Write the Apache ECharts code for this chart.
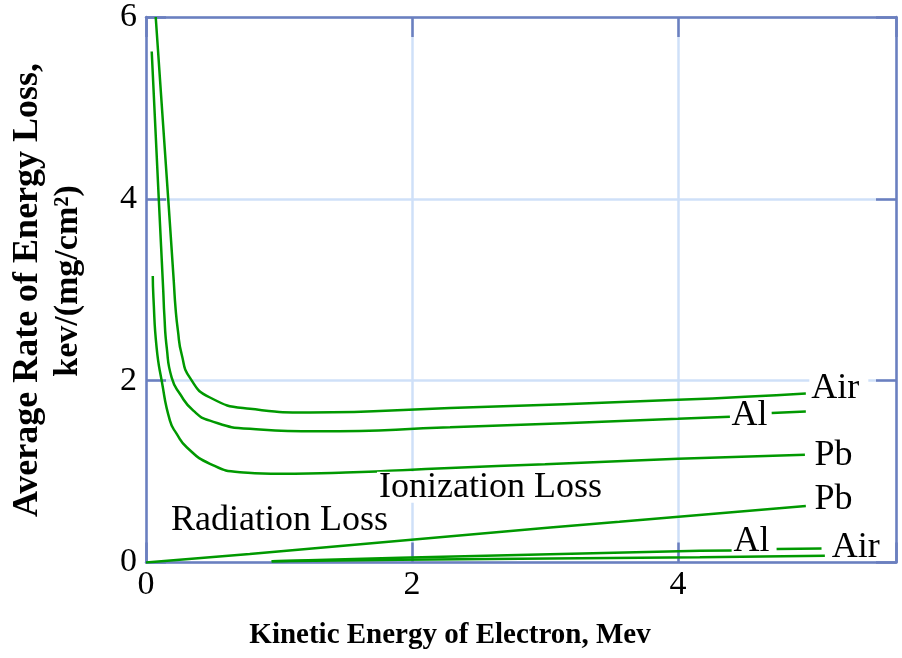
<!DOCTYPE html>
<html><head><meta charset="utf-8">
<script src="https://cdn.jsdelivr.net/npm/echarts@6/dist/echarts.min.js"></script>
<style>html,body{margin:0;padding:0;background:#fff}#c{width:902px;height:658px}</style>
</head><body><div id="c"></div>
<script>
// ---- data ----
const xTickValues = [0, 2, 4];
const yTickValues = [0, 2, 4, 6];

// Ionization loss curves [energy MeV, keV/(mg/cm2)]
const airIonization = [[0.073,6.0],[0.168,3.98],[0.209,3.09],[0.222,2.80],[0.240,2.55],[0.268,2.29],[0.331,2.03],[0.481,1.815],[0.782,1.69],[1.233,1.65],[2.286,1.70],[4.0,1.79],[4.962,1.86]];
const alIonization = [[0.043,5.62],[0.097,3.97],[0.130,2.98],[0.1376,2.73],[0.156,2.363],[0.193,2.034],[0.256,1.853],[0.356,1.67],[0.481,1.56],[0.782,1.47],[1.283,1.443],[2.286,1.487],[4.0,1.58],[4.391,1.604],[4.55,null],[4.705,1.645],[4.962,1.662]];
const pbIonization = [[0.051,3.15],[0.056,2.91],[0.08,2.36],[0.118,2.0],[0.18,1.56],[0.231,1.415],[0.306,1.268],[0.481,1.086],[0.707,0.994],[1.008,0.977],[1.5,0.99],[2.286,1.04],[3.0,1.08],[4.0,1.14],[4.955,1.185]];

// Radiation loss curves
const pbRadiation = [[0,0],[0.78,0.093],[3.04,0.385],[3.56,0.447],[4.962,0.622]];
const alRadiation = [[0.945,0.013],[1.91,0.053],[4.165,0.129],[4.404,0.131],[4.57,null],[4.742,0.148],[5.08,0.155]];
const airRadiation = [[0.945,0.013],[1.91,0.031],[4.165,0.057],[5.105,0.074]];

// Annotations
const annoText = ['Ionization Loss','Radiation Loss','Air','Al','Pb','Pb','Al','Air'];
const annoX = [2.617,1.004,5.21,4.538,5.17,5.17,4.553,5.337];
const annoY = [0.827,0.462,1.914,1.62,1.18,0.69,0.23,0.159];
const annoOpaque = [true,false,true,false,false,false,false,false];

const xTitle = 'Kinetic Energy of Electron, Mev';
const yTitle1 = 'Average Rate of Energy Loss,';
const yTitle2 = 'kev/(mg/cm²)';

// ---- styles ----
const FONT = 'Liberation Serif, Times New Roman, serif';
const AXIS = '#6b7fbf';
const GRID = '#cfe0f8';
const GREEN = '#009900';

const chart = echarts.init(document.getElementById('c'), null, {renderer:'canvas'});

function lineSeries(data){
  return {type:'line', data:data, xAxisIndex:0, yAxisIndex:0, showSymbol:false, symbol:'none',
    smooth:0.55, connectNulls:false, clip:true, z:3,
    lineStyle:{color:GREEN, width:2.5}, itemStyle:{color:GREEN}, silent:true, animation:false};
}
function straightSeries(data){
  const s = lineSeries(data); s.smooth = false; return s;
}

const annoData = annoText.map((t,i)=>{
  const item = {value:[annoX[i], annoY[i]], name:t};
  if (annoOpaque[i]) item.label = {backgroundColor:'#fff', padding:[0,9,0,2], lineHeight:31};
  return item;
});

const baseAxisX = {type:'value', min:0, max:5.64, interval:2};
const baseAxisY = {type:'value', min:0, max:6, interval:2};
const frameLine = {show:true, onZero:false, lineStyle:{color:AXIS, width:2.5}};
const frameTick = {show:true, inside:true, length:20, lineStyle:{color:AXIS, width:2.5}};

chart.setOption({
  animation:false,
  backgroundColor:'#fff',
  grid:{left:146, right:6, top:14.5, bottom:95.5, containLabel:false},
  xAxis:[
    Object.assign({}, baseAxisX, {position:'bottom', axisLine:frameLine, axisTick:frameTick,
      axisLabel:{show:true, margin:6, color:'#000', fontFamily:FONT, fontSize:34,
        formatter:v=> xTickValues.indexOf(Math.round(v*1000)/1000)>=0 ? String(v) : ''},
      splitLine:{show:true, lineStyle:{color:GRID, width:2.5}}, z:2}),
    Object.assign({}, baseAxisX, {position:'top', axisLine:frameLine, axisTick:frameTick,
      axisLabel:{show:false}, splitLine:{show:false}, z:2})
  ],
  yAxis:[
    Object.assign({}, baseAxisY, {position:'left', axisLine:frameLine, axisTick:frameTick,
      axisLabel:{show:true, margin:9, color:'#000', fontFamily:FONT, fontSize:34,
        formatter:v=> yTickValues.indexOf(v)>=0 ? String(v) : ''},
      splitLine:{show:true, lineStyle:{color:GRID, width:2.5}}, z:2}),
    Object.assign({}, baseAxisY, {position:'right', axisLine:frameLine, axisTick:frameTick,
      axisLabel:{show:false}, splitLine:{show:false}, z:2})
  ],
  series:[
    lineSeries(airIonization),
    lineSeries(alIonization),
    lineSeries(pbIonization),
    straightSeries(pbRadiation),
    straightSeries(alRadiation),
    straightSeries(airRadiation),
    {type:'scatter', data:annoData, symbolSize:1, itemStyle:{color:'rgba(0,0,0,0)', opacity:1}, z:10, silent:true,
      label:{show:true, position:'inside', formatter:p=>p.name, color:'#000', opacity:1, fontFamily:FONT, fontSize:36,
        textBorderWidth:0, textBorderColor:'transparent', textShadowBlur:0,
        align:'center', verticalAlign:'middle'}}
  ],
  graphic:[
    {type:'text', x:450, y:636, style:{text:xTitle, fontFamily:FONT, fontWeight:'bold', fontSize:29,
      fill:'#000', align:'center', verticalAlign:'middle'}},
    {type:'text', x:28, y:290, rotation:Math.PI/2, style:{text:yTitle1, fontFamily:FONT, fontWeight:'bold', fontSize:36,
      fill:'#000', align:'center', verticalAlign:'middle'}},
    {type:'text', x:68, y:281, rotation:Math.PI/2, style:{text:yTitle2, fontFamily:FONT, fontWeight:'bold', fontSize:34,
      fill:'#000', align:'center', verticalAlign:'middle'}}
  ]
});
</script></body></html>
